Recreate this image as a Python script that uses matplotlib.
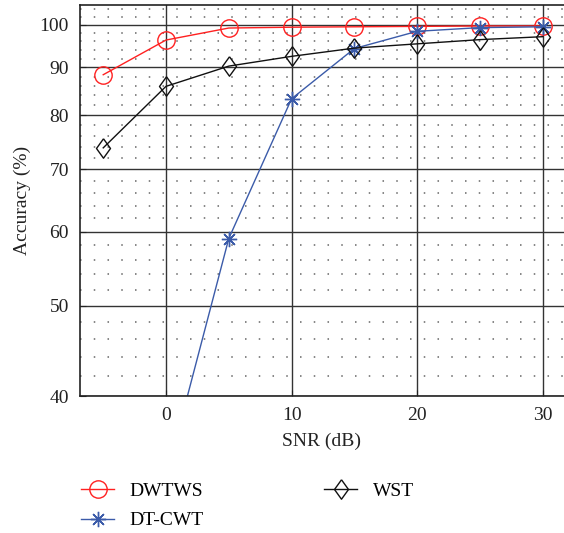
import matplotlib.pyplot as plt
from matplotlib.ticker import FixedLocator, NullFormatter

snr = [-5, 0, 5, 10, 15, 20, 25, 30]
dwtws = [88.4, 96.3, 99.2, 99.4, 99.5, 99.6, 99.7, 99.7]
dtcwt = [20.0, 32.7, 59.0, 83.3, 94.3, 98.4, 99.3, 99.5]
wst = [73.8, 85.9, 90.3, 92.5, 94.4, 95.4, 96.4, 97.1]

y_major = [40, 50, 60, 70, 80, 90, 100]
y_minor = [v for v in range(42, 106, 2) if v % 10 != 0]

plt.rcParams['font.family'] = ['Liberation Serif', 'DejaVu Serif']
fs = 14

# tall diamond, like the reference
diamond = [(0, 1), (0.72, 0), (0, -1), (-0.72, 0), (0, 1)]

fig = plt.figure(figsize=(5.64, 5.33), dpi=100)
ax = fig.add_axes([80 / 564, 1 - 396 / 533, 1 - 80 / 564, 391 / 533])

ax.set_yscale('log')
ax.set_ylim(40, 105)
ax.set_xlim(-6.85, 31.7)

ax.yaxis.set_major_locator(FixedLocator(y_major))
ax.yaxis.set_minor_locator(FixedLocator(y_minor))
ax.yaxis.set_major_formatter(plt.FixedFormatter([str(v) for v in y_major]))
ax.yaxis.set_minor_formatter(NullFormatter())
ax.set_xticks([0, 10, 20, 30])

ax.grid(which='major', color='#333333', linewidth=1.0)
ax.grid(which='minor', axis='y', color='#666666', linewidth=1.1,
        linestyle=(0, (1, 8)))
ax.set_axisbelow(True)

ax.plot(snr, dwtws, color='#ff2020', linewidth=1.0, marker='o',
        markersize=12.5, markerfacecolor='none', markeredgewidth=1.0,
        label='DWTWS')
ax.plot(snr, dtcwt, color='#3b5ba9', linewidth=1.0, marker=(8, 2, 0),
        markersize=11, markeredgewidth=1.0, label='DT-CWT')
ax.plot(snr, wst, color='#111111', linewidth=1.0, marker=diamond,
        markersize=14, markerfacecolor='none', markeredgewidth=1.0,
        label='WST')

ax.spines['right'].set_visible(False)
for s in ['left', 'bottom', 'top']:
    ax.spines[s].set_color('#222222')
    ax.spines[s].set_linewidth(1.2)

ax.tick_params(which='both', length=4, direction='in', labelsize=fs,
               colors='#222222', pad=8)
ax.tick_params(which='minor', length=0)

ax.set_xlabel('SNR (dB)', fontsize=fs, color='#222222', labelpad=6)
ax.set_ylabel('Accuracy (%)', fontsize=fs, color='#222222', labelpad=6)

handles, labels = ax.get_legend_handles_labels()
fig.legend(handles, labels, loc='upper left', bbox_to_anchor=(0.13, 0.11),
           ncol=2, frameon=False, fontsize=fs, handlelength=1.7,
           handletextpad=0.8, columnspacing=6.2, labelspacing=0.62,
           borderaxespad=0)

fig.savefig('out.png', dpi=100)
